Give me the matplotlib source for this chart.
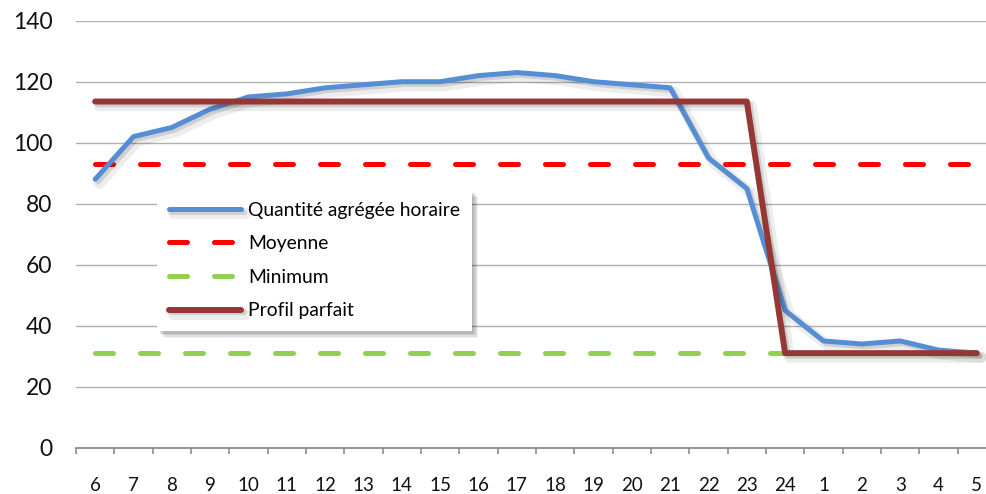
import matplotlib
matplotlib.use("Agg")
import matplotlib.pyplot as plt
import matplotlib.patheffects as pe
from matplotlib.ticker import FixedLocator
import numpy as np

hours = ["6", "7", "8", "9", "10", "11", "12", "13", "14", "15", "16", "17",
         "18", "19", "20", "21", "22", "23", "24", "1", "2", "3", "4", "5"]
quantite = [88, 102, 105, 111, 115, 116, 118, 119, 120, 120, 122, 123,
            122, 120, 119, 118, 95, 85, 45, 35, 34, 35, 32, 31]
moyenne = [93] * 24
minimum = [31] * 24
profil = [113.5] * 18 + [31] * 6

plt.rcParams['font.family'] = ['Lato', 'DejaVu Sans']

fig = plt.figure(figsize=(9.87, 4.94), dpi=100)
ax = fig.add_axes([76 / 987, 1 - 447.7 / 494, (996 - 76) / 987, (447.7 - 20.7) / 494])

x = np.arange(len(hours))

def shadow():
    return [pe.SimpleLineShadow(offset=(3, -3), shadow_color='black', alpha=0.07, linewidth=8),
            pe.SimpleLineShadow(offset=(2, -2), shadow_color='black', alpha=0.12),
            pe.Normal()]

ax.plot(x, moyenne, color='#ff0000', lw=3.6, linestyle=(0, (3.6, 5.4)),
        dash_capstyle='round', label='Moyenne', zorder=3)
ax.plot(x, minimum, color='#92d050', lw=3.6, linestyle=(0, (3.6, 5.4)),
        dash_capstyle='round', label='Minimum', zorder=3)
ax.plot(x, quantite, color='#558ed5', lw=3.6, solid_capstyle='round',
        solid_joinstyle='round', label='Quantité agrégée horaire', zorder=4,
        path_effects=shadow())
ax.plot(x, profil, color='#953735', lw=4.3, solid_capstyle='round',
        solid_joinstyle='round', label='Profil parfait', zorder=5,
        path_effects=shadow())

ax.set_xlim(-0.5, len(hours) - 0.5)
ax.set_ylim(0, 140)
ax.set_yticks(range(0, 141, 20))
ax.yaxis.grid(True, color='#b0b0b0', lw=1)
ax.set_axisbelow(True)
ax.tick_params(axis='y', length=0, pad=17, labelsize=16.5, labelcolor='#111111')

ax.set_xticks(x)
ax.set_xticklabels(hours)
ax.xaxis.set_minor_locator(FixedLocator(np.arange(-0.5, len(hours), 1.0)))
ax.tick_params(axis='x', which='major', length=0, pad=21, labelsize=13.5, labelcolor='#111111')
ax.tick_params(axis='x', which='minor', length=4, width=1.2, color='#8c8c8c', direction='out')

for s in ['top', 'right', 'left']:
    ax.spines[s].set_visible(False)
ax.spines['bottom'].set_color('#8c8c8c')
ax.spines['bottom'].set_linewidth(1.3)

handles, labels = ax.get_legend_handles_labels()
order = [2, 0, 1, 3]
leg = ax.legend([handles[i] for i in order], [labels[i] for i in order],
                loc='upper left', bbox_to_anchor=(157 / 987, 1 - 190 / 494),
                bbox_transform=fig.transFigure, frameon=True, fancybox=False,
                shadow=False, fontsize=13.9, handlelength=3.75, handletextpad=0.36,
                labelspacing=0.86, borderpad=0.6, borderaxespad=0)
frame = leg.get_frame()
frame.set_edgecolor('none')
frame.set_facecolor('white')
frame.set_alpha(1)
frame.set_path_effects([
    pe.SimplePatchShadow(offset=(5, -5), shadow_rgbFace='black', alpha=0.05),
    pe.SimplePatchShadow(offset=(4, -4), shadow_rgbFace='black', alpha=0.07),
    pe.SimplePatchShadow(offset=(3, -3), shadow_rgbFace='black', alpha=0.09),
    pe.SimplePatchShadow(offset=(2, -2), shadow_rgbFace='black', alpha=0.10),
    pe.Normal()])
leg.set_zorder(10)

fig.savefig("out.png", dpi=100)
